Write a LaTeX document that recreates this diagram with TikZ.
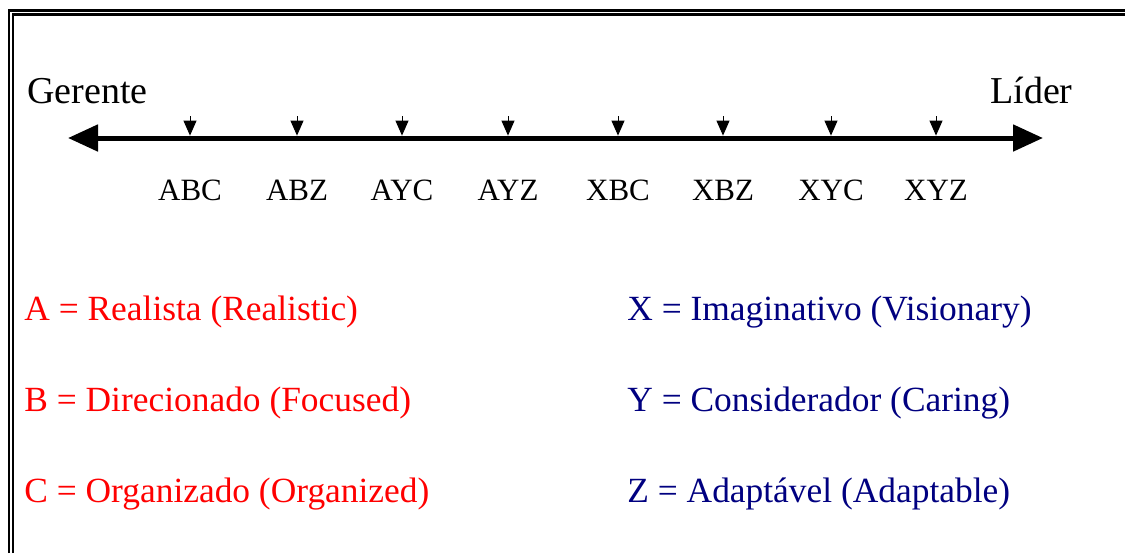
\documentclass[tikz,border=0pt]{standalone}
\usepackage{fontspec}
\setmainfont{Liberation Serif}
\usetikzlibrary{positioning}
\usetikzlibrary{arrows.meta}
\definecolor{navy}{RGB}{0,0,128}
\tikzset{
  pole/.style={inner sep=0pt,font=\fontsize{19}{22}\selectfont},
  combo/.style={anchor=base,inner sep=0pt,font=\fontsize{15.5}{18}\selectfont},
  trait/.style={anchor=base west,inner sep=0pt,font=\fontsize{17.7}{21}\selectfont},
  axis/.style={line width=2.5pt,{Triangle[length=15pt,width=13pt]}-{Triangle[length=15pt,width=13pt]}},
  tickarrow/.style={line width=0.5pt,-{Triangle[length=7.5pt,width=6.5pt]},shorten >=1.2pt},
  frameline/.style={line width=1.25pt}
}

\begin{document}
\begin{tikzpicture}[x=0.5pt,y=-0.5pt]
\useasboundingbox (0,0) rectangle (1125,553);
% frame
\draw [frameline] (9,553) -- (9,10.5) -- (1125,10.5);
\draw [frameline] (13,553) -- (13,14.5) -- (1125,14.5);
% scale
\path
(27,103) node [pole,anchor=base west](gerente) {Gerente}
(1073,103) node [pole,anchor=base east](lider) {Líder};
\coordinate (west) at (68,138);
\coordinate (east) at (1043,138);
\draw [axis](west) --(east);
\path
(190,200) node [combo](abc) {ABC}
(297,200) node [combo](abz) {ABZ}
(402,200) node [combo](ayc) {AYC}
(508,200) node [combo](ayz) {AYZ}
(618,200) node [combo](xbc) {XBC}
(723,200) node [combo](xbz) {XBZ}
(831,200) node [combo](xyc) {XYC}
(936,200) node [combo](xyz) {XYZ};
\draw [tickarrow](abc |- 0,116) --(abc |- west);
\draw [tickarrow](abz |- 0,116) --(abz |- west);
\draw [tickarrow](ayc |- 0,116) --(ayc |- west);
\draw [tickarrow](ayz |- 0,116) --(ayz |- west);
\draw [tickarrow](xbc |- 0,116) --(xbc |- west);
\draw [tickarrow](xbz |- 0,116) --(xbz |- west);
\draw [tickarrow](xyc |- 0,116) --(xyc |- west);
\draw [tickarrow](xyz |- 0,116) --(xyz |- west);
% legend
\path
(24,320) node [trait,red](a) {A = Realista (Realistic)}
(24,411) node [trait,red](b) {B = Direcionado (Focused)}
(24,502) node [trait,red](c) {C = Organizado (Organized)}
(627,320) node [trait,navy](x) {X = Imaginativo (Visionary)}
(627,411) node [trait,navy](y) {Y = Considerador (Caring)}
(627,502) node [trait,navy](z) {Z = Adaptável (Adaptable)};
\end{tikzpicture}
\end{document}
